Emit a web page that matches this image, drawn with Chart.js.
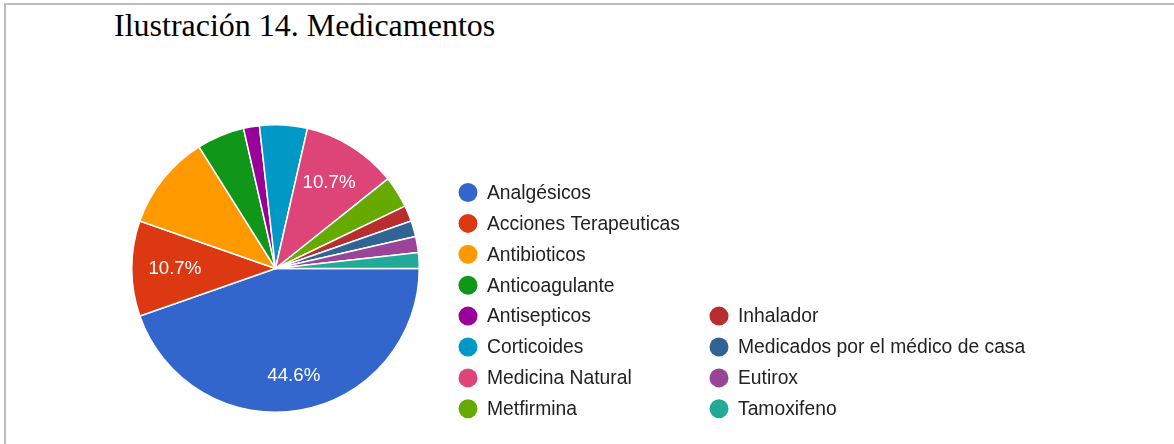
<!DOCTYPE html>
<html>
<head>
<meta charset="utf-8">
<script src="https://cdn.jsdelivr.net/npm/chart.js@4.4.1/dist/chart.umd.min.js"></script>
<style>
  html, body { margin: 0; padding: 0; background: #fff; }
  body { width: 1174px; height: 444px; position: relative; overflow: hidden; }
  #frame { position: absolute; left: 4px; top: 3px; width: 1180px; height: 460px;
           border-top: 2px solid #bcbcbc; border-left: 2px solid #bcbcbc; box-sizing: border-box; }
  #title { position: absolute; left: 114px; top: 7px; font-family: "Liberation Serif", "Times New Roman", serif;
           font-size: 32px; color: #000; white-space: nowrap; line-height: 36px; }
  canvas { position: absolute; left: 0; top: 0; }
</style>
</head>
<body>
<div id="frame"></div>
<div id="title">Ilustración 14. Medicamentos</div>
<canvas id="c" width="1174" height="444"></canvas>
<script>
const categories = ["Analgésicos", "Acciones Terapeuticas", "Antibioticos", "Anticoagulante", "Antisepticos",
  "Corticoides", "Medicina Natural", "Metfirmina", "Inhalador", "Medicados por el médico de casa", "Eutirox", "Tamoxifeno"];
const counts = [25, 6, 6, 3, 1, 3, 6, 2, 1, 1, 1, 1];
const colors = ["#3366cc", "#dc3912", "#ff9900", "#109618", "#990099", "#0099c6",
  "#dd4477", "#66aa00", "#b82e2e", "#316395", "#994499", "#22aa99"];
const labeledSlices = ["Analgésicos", "Acciones Terapeuticas", "Medicina Natural"];

const FONT = '"Liberation Sans", Arial, sans-serif';

const sliceLabels = {
  id: 'sliceLabels',
  afterDatasetsDraw(chart) {
    const ctx = chart.ctx;
    const meta = chart.getDatasetMeta(0);
    const total = counts.reduce((a, b) => a + b, 0);
    ctx.save();
    ctx.fillStyle = '#ffffff';
    ctx.font = '18.7px ' + FONT;
    ctx.textAlign = 'center';
    ctx.textBaseline = 'middle';
    meta.data.forEach((arc, i) => {
      if (!labeledSlices.includes(categories[i])) return;
      const p = arc.getProps(['x', 'y', 'startAngle', 'endAngle', 'outerRadius']);
      const mid = (p.startAngle + p.endAngle) / 2;
      const f = (counts[i] / total > 0.3) ? 0.76 : 0.70;
      const x = p.x + Math.cos(mid) * p.outerRadius * f;
      const y = p.y + Math.sin(mid) * p.outerRadius * f;
      ctx.fillText((counts[i] / total * 100).toFixed(1) + '%', x, y);
    });
    ctx.restore();
  }
};

const customLegend = {
  id: 'customLegend',
  afterDraw(chart) {
    const ctx = chart.ctx;
    ctx.save();
    ctx.font = '19.3px ' + FONT;
    ctx.textBaseline = 'middle';
    ctx.textAlign = 'left';
    const rowY0 = 192.5, rowH = 30.9;
    categories.forEach((name, i) => {
      let col, row;
      if (i < 8) { col = 0; row = i; } else { col = 1; row = i - 4; }
      const cx = col === 0 ? 468 : 719;
      const tx = col === 0 ? 487 : 738;
      const y = rowY0 + row * rowH;
      ctx.fillStyle = colors[i];
      ctx.beginPath();
      ctx.arc(cx, y, 9.5, 0, Math.PI * 2);
      ctx.fill();
      ctx.fillStyle = '#222222';
      ctx.fillText(name, tx, y + 1);
    });
    ctx.restore();
  }
};

new Chart(document.getElementById('c'), {
  type: 'pie',
  data: {
    labels: categories,
    datasets: [{
      data: counts,
      backgroundColor: colors,
      borderColor: '#ffffff',
      borderWidth: 1.5
    }]
  },
  options: {
    responsive: false,
    animation: false,
    rotation: 90,
    layout: { padding: { left: 131, top: 124, right: 754, bottom: 31 } },
    plugins: { legend: { display: false }, tooltip: { enabled: false }, title: { display: false } }
  },
  plugins: [sliceLabels, customLegend]
});
</script>
</body>
</html>
